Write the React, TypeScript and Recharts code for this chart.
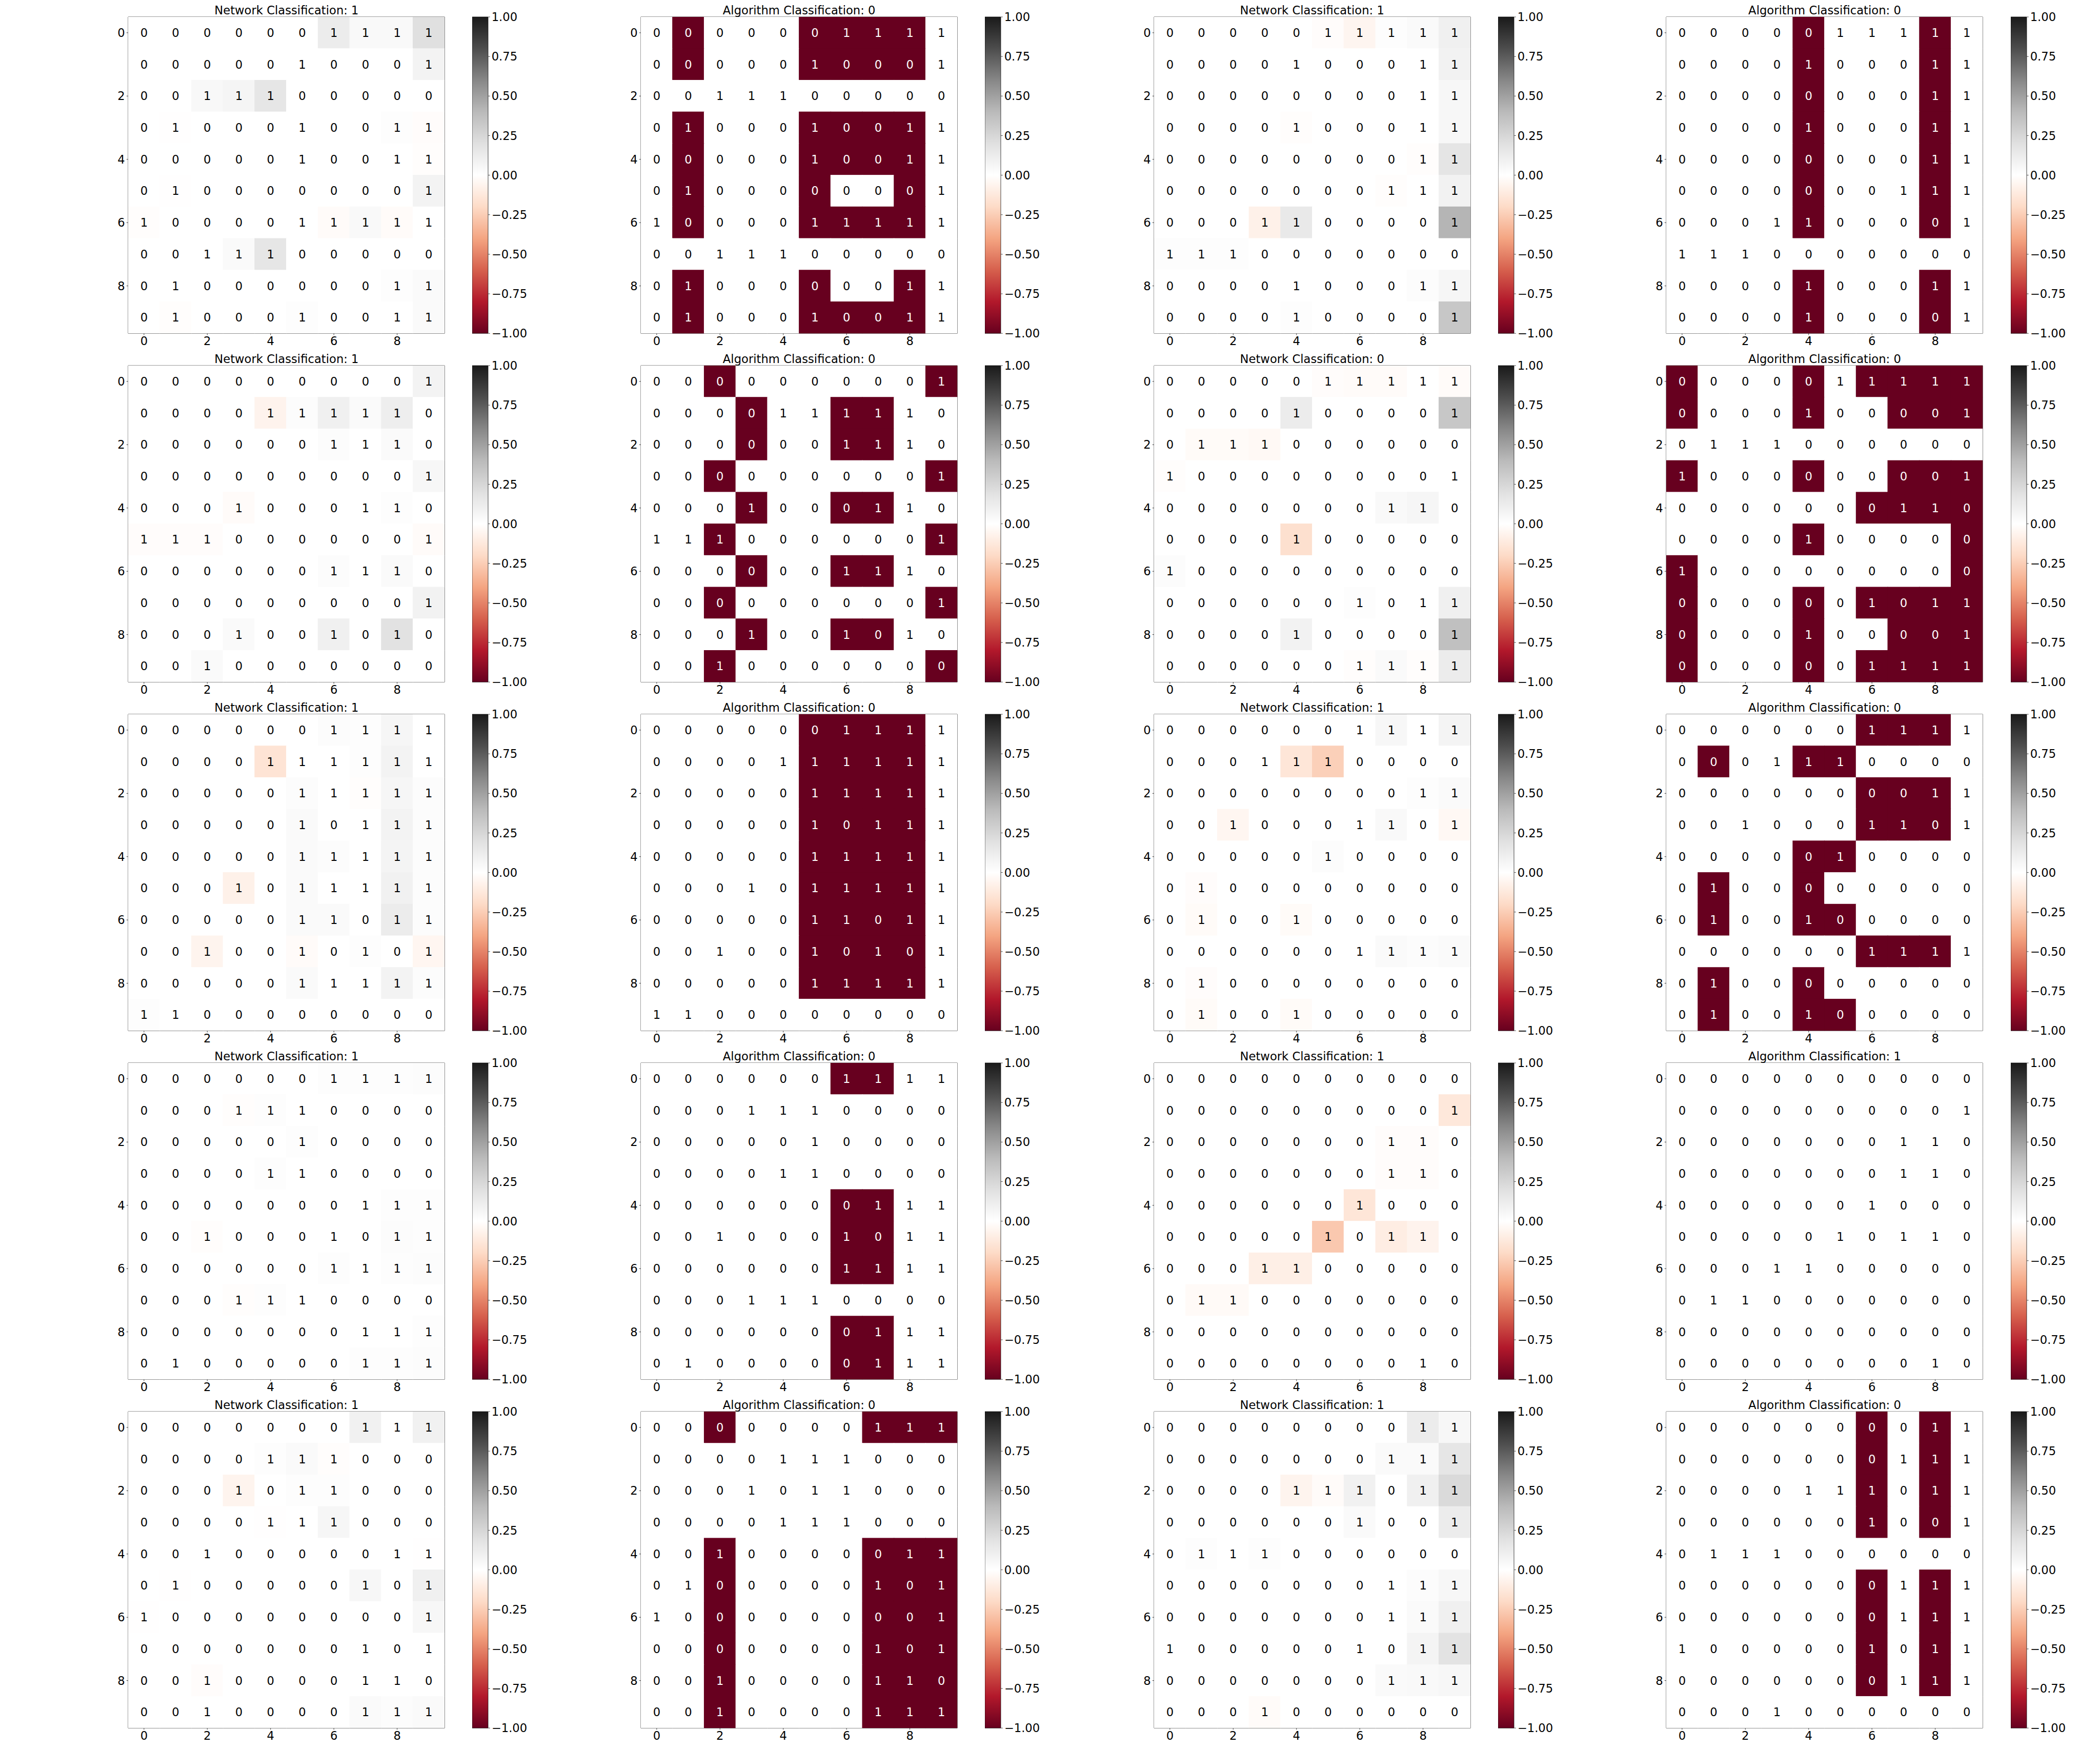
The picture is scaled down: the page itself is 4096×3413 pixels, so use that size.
import React from 'react';
import { ScatterChart, Scatter, XAxis, YAxis, ReferenceArea, BarChart, Bar } from 'recharts';

// ---------------- data ----------------
const inputA = [
  [0,0,0,0,0,0,1,1,1,1],[0,0,0,0,0,1,0,0,0,1],[0,0,1,1,1,0,0,0,0,0],[0,1,0,0,0,1,0,0,1,1],[0,0,0,0,0,1,0,0,1,1],
  [0,1,0,0,0,0,0,0,0,1],[1,0,0,0,0,1,1,1,1,1],[0,0,1,1,1,0,0,0,0,0],[0,1,0,0,0,0,0,0,1,1],[0,1,0,0,0,1,0,0,1,1],
];
const netA = [
  [0,0,0,0,0,0,0.12,0.04,0.04,0.2],[0,0,0,0,0,0,0,0,0,0.08],[0,0,0.045,0.065,0.16,0,0,0,0,0],[0,-0.005,0,0,0,0,0,0,0.01,-0.015],[0,0,0,0,0,0,0,0,0,-0.01],
  [0,-0.005,0,0,0,0,0,0,0,0.08],[-0.01,0,0,0,0,0,-0.02,0.04,-0.02,0],[0,0,0,0.03,0.16,0,0,0,0,0],[0,0,0,0,0,0,0,0,0.01,0.03],[0,-0.01,0,0,0,0.01,0,0,0,0.03],
];
const algA = [
  [0,-1,0,0,0,-1,-1,-1,-1,0],[0,-1,0,0,0,-1,-1,-1,-1,0],[0,0,0,0,0,0,0,0,0,0],[0,-1,0,0,0,-1,-1,-1,-1,0],[0,-1,0,0,0,-1,-1,-1,-1,0],
  [0,-1,0,0,0,-1,0,0,-1,0],[0,-1,0,0,0,-1,-1,-1,-1,0],[0,0,0,0,0,0,0,0,0,0],[0,-1,0,0,0,-1,0,0,-1,0],[0,-1,0,0,0,-1,-1,-1,-1,0],
];

const inputB = [
  [0,0,0,0,0,1,1,1,1,1],[0,0,0,0,1,0,0,0,1,1],[0,0,0,0,0,0,0,0,1,1],[0,0,0,0,1,0,0,0,1,1],[0,0,0,0,0,0,0,0,1,1],
  [0,0,0,0,0,0,0,1,1,1],[0,0,0,1,1,0,0,0,0,1],[1,1,1,0,0,0,0,0,0,0],[0,0,0,0,1,0,0,0,1,1],[0,0,0,0,1,0,0,0,0,1],
];
const netB = [
  [0,0,0,0,0,-0.015,-0.055,0.01,0.03,0.1],[0,0,0,0,0,0,0,0,0,0.085],[0,0,0,0,0,0,0,0,0,0.05],[0,0,0,0,-0.01,0,0,0,0,0.05],[0,0,0,0,0,0,0,0,-0.01,0.17],
  [0,0,0,0,0,0,0,-0.01,0,0.085],[0,0,0,-0.08,0.14,0,0,0,0,0.42],[0.015,0.015,0.01,0,0,0,0,0,0,0],[0,0,0,0,0,0,0,0,0.02,0.055],[0,0,0,0,0.01,0,0,0,0,0.33],
];
const algB = [
  [0,0,0,0,-1,0,0,0,-1,0],[0,0,0,0,-1,0,0,0,-1,0],[0,0,0,0,-1,0,0,0,-1,0],[0,0,0,0,-1,0,0,0,-1,0],[0,0,0,0,-1,0,0,0,-1,0],
  [0,0,0,0,-1,0,0,0,-1,0],[0,0,0,0,-1,0,0,0,-1,0],[0,0,0,0,0,0,0,0,0,0],[0,0,0,0,-1,0,0,0,-1,0],[0,0,0,0,-1,0,0,0,-1,0],
];

const inputC = [
  [0,0,0,0,0,0,0,0,0,1],[0,0,0,0,1,1,1,1,1,0],[0,0,0,0,0,0,1,1,1,0],[0,0,0,0,0,0,0,0,0,1],[0,0,0,1,0,0,0,1,1,0],
  [1,1,1,0,0,0,0,0,0,1],[0,0,0,0,0,0,1,1,1,0],[0,0,0,0,0,0,0,0,0,1],[0,0,0,1,0,0,1,0,1,0],[0,0,1,0,0,0,0,0,0,0],
];
const netC = [
  [0,0,0,0,0,0,0,0,0,0.08],[0,0,0,0,-0.065,0.02,0.1,0.03,0.11,0],[0,0,0,0,0,0,0.02,0,0.03,0],[0,0,0,0,0,0,0,0,0,0.05],[0,0,0,-0.02,0,0,0,0,0.01,0],
  [-0.015,-0.015,-0.015,0,0,0,0,0,0,-0.02],[0,0,0,0,0,0,0.02,0,0.03,0],[0,0,0,0,0,0,0,0,0,0.085],[0,0,0,0.03,0,0,0.1,0,0.19,0],[0,0,0.03,0,0,0,0,0,0,0],
];
const algC = [
  [0,0,-1,0,0,0,0,0,0,-1],[0,0,0,-1,0,0,-1,-1,0,0],[0,0,0,-1,0,0,-1,-1,0,0],[0,0,-1,0,0,0,0,0,0,-1],[0,0,0,-1,0,0,-1,-1,0,0],
  [0,0,-1,0,0,0,0,0,0,-1],[0,0,0,-1,0,0,-1,-1,0,0],[0,0,-1,0,0,0,0,0,0,-1],[0,0,0,-1,0,0,-1,-1,0,0],[0,0,-1,0,0,0,0,0,0,-1],
];

const inputD = [
  [0,0,0,0,0,1,1,1,1,1],[0,0,0,0,1,0,0,0,0,1],[0,1,1,1,0,0,0,0,0,0],[1,0,0,0,0,0,0,0,0,1],[0,0,0,0,0,0,0,1,1,0],
  [0,0,0,0,1,0,0,0,0,0],[1,0,0,0,0,0,0,0,0,0],[0,0,0,0,0,0,1,0,1,1],[0,0,0,0,1,0,0,0,0,1],[0,0,0,0,0,0,1,1,1,1],
];
const netD = [
  [0,0,0,0,0,-0.015,-0.02,-0.02,0,-0.02],[0,0,0,0,0.12,0,0,0,0,0.33],[0,-0.025,-0.025,-0.035,0,0,0,0,0,0],[-0.01,0,0,0,0,0,0,0,0,0],[0,0,0,0,0,0,0,0.04,0.06,0],
  [0,0,0,0,-0.17,0,0,0,0,0],[0.02,0,0,0,0,0,0,0,0,0],[0,0,0,0,0,0,0.01,0,0,0.1],[0,0,0,0,0.085,0,0,0,0,0.37],[0,0,0,0,0,0,-0.01,0.03,-0.01,0.12],
];
const algD = [
  [-1,0,0,0,-1,0,-1,-1,-1,-1],[-1,0,0,0,-1,0,0,-1,-1,-1],[0,0,0,0,0,0,0,0,0,0],[-1,0,0,0,-1,0,0,-1,-1,-1],[0,0,0,0,0,0,-1,-1,-1,-1],
  [0,0,0,0,-1,0,0,0,0,-1],[-1,0,0,0,0,0,0,0,0,-1],[-1,0,0,0,-1,0,-1,-1,-1,-1],[-1,0,0,0,-1,0,0,-1,-1,-1],[-1,0,0,0,-1,0,-1,-1,-1,-1],
];

const inputE = [
  [0,0,0,0,0,0,1,1,1,1],[0,0,0,0,1,1,1,1,1,1],[0,0,0,0,0,1,1,1,1,1],[0,0,0,0,0,1,0,1,1,1],[0,0,0,0,0,1,1,1,1,1],
  [0,0,0,1,0,1,1,1,1,1],[0,0,0,0,0,1,1,0,1,1],[0,0,1,0,0,1,0,1,0,1],[0,0,0,0,0,1,1,1,1,1],[1,1,0,0,0,0,0,0,0,0],
];
const netE = [
  [0,0,0,0,0,0,0.02,0.01,0.06,0],[0,0,0,0,-0.15,0,0,0.01,0.08,0],[0,0,0,0,0,0.02,0,-0.01,0.06,0.02],[0,0,0,0,0,0.03,0,0,0.08,0.02],[0,0,0,0,0,0.03,0.02,0,0.07,0.02],
  [0,0,0,-0.08,0,0.03,0,0,0.09,0.02],[0,0,0,0,0,0.03,0.03,0,0.12,0.02],[0,0,-0.06,0,0,-0.02,0,0.015,0,-0.05],[0,0,0,0,0,0.03,0,0,0.08,0.02],[0.01,0,0,0,0,0,0,0,0,0],
];
const algE = [
  [0,0,0,0,0,-1,-1,-1,-1,0],[0,0,0,0,0,-1,-1,-1,-1,0],[0,0,0,0,0,-1,-1,-1,-1,0],[0,0,0,0,0,-1,-1,-1,-1,0],[0,0,0,0,0,-1,-1,-1,-1,0],
  [0,0,0,0,0,-1,-1,-1,-1,0],[0,0,0,0,0,-1,-1,-1,-1,0],[0,0,0,0,0,-1,-1,-1,-1,0],[0,0,0,0,0,-1,-1,-1,-1,0],[0,0,0,0,0,0,0,0,0,0],
];

const inputF = [
  [0,0,0,0,0,0,1,1,1,1],[0,0,0,1,1,1,0,0,0,0],[0,0,0,0,0,0,0,0,1,1],[0,0,1,0,0,0,1,1,0,1],[0,0,0,0,0,1,0,0,0,0],
  [0,1,0,0,0,0,0,0,0,0],[0,1,0,0,1,0,0,0,0,0],[0,0,0,0,0,0,1,1,1,1],[0,1,0,0,0,0,0,0,0,0],[0,1,0,0,1,0,0,0,0,0],
];
const netF = [
  [0,0,0,0,0,0,0,0.05,0,0.07],[0,0,0,0,-0.14,-0.24,0,0,0,0],[0,0,0,0,0,0,0,0,0.015,0.03],[0,0,-0.05,0,0,0,0,0.04,0,-0.04],[0,0,0,0,0,0.02,0,0,0,0],
  [0,-0.015,0,0,0,0,0,0,0,0],[0,-0.025,0,0,-0.025,0,0,0,0,0],[0,0,0,0,0,0,0,0.03,0.02,0.03],[0,-0.015,0,0,0,0,0,0,0,0],[0,-0.025,0,0,-0.025,0,0,0,0,0],
];
const algF = [
  [0,0,0,0,0,0,-1,-1,-1,0],[0,-1,0,0,-1,-1,0,0,0,0],[0,0,0,0,0,0,-1,-1,-1,0],[0,0,0,0,0,0,-1,-1,-1,0],[0,0,0,0,-1,-1,0,0,0,0],
  [0,-1,0,0,-1,0,0,0,0,0],[0,-1,0,0,-1,-1,0,0,0,0],[0,0,0,0,0,0,-1,-1,-1,0],[0,-1,0,0,-1,0,0,0,0,0],[0,-1,0,0,-1,-1,0,0,0,0],
];

const inputG = [
  [0,0,0,0,0,0,1,1,1,1],[0,0,0,1,1,1,0,0,0,0],[0,0,0,0,0,1,0,0,0,0],[0,0,0,0,1,1,0,0,0,0],[0,0,0,0,0,0,0,1,1,1],
  [0,0,1,0,0,0,1,0,1,1],[0,0,0,0,0,0,1,1,1,1],[0,0,0,1,1,1,0,0,0,0],[0,0,0,0,0,0,0,1,1,1],[0,1,0,0,0,0,0,1,1,1],
];
const netG = [
  [0,0,0,0,0,0,0.01,0.01,0.01,0.02],[0,0,0,-0.01,0.01,0,0,0,0,0],[0,0,0,0,0,0.01,0,0,0,0],[0,0,0,0,0.01,0,0,0,0,0],[0,0,0,0,0,0,0,0,0.01,0.01],
  [0,0,-0.01,0,0,0,0,0,0.02,0.01],[0,0,0,0,0,0,0.01,0,0.01,0.02],[0,0,0,-0.01,0.01,0,0,0,0,0],[0,0,0,0,0,0,0,0,0,0.01],[0,0,0,0,0,0,0,0.01,0.01,0.02],
];
const algG = [
  [0,0,0,0,0,0,-1,-1,0,0],[0,0,0,0,0,0,0,0,0,0],[0,0,0,0,0,0,0,0,0,0],[0,0,0,0,0,0,0,0,0,0],[0,0,0,0,0,0,-1,-1,0,0],
  [0,0,0,0,0,0,-1,-1,0,0],[0,0,0,0,0,0,-1,-1,0,0],[0,0,0,0,0,0,0,0,0,0],[0,0,0,0,0,0,-1,-1,0,0],[0,0,0,0,0,0,-1,-1,0,0],
];

const inputH = [
  [0,0,0,0,0,0,0,0,0,0],[0,0,0,0,0,0,0,0,0,1],[0,0,0,0,0,0,0,1,1,0],[0,0,0,0,0,0,0,1,1,0],[0,0,0,0,0,0,1,0,0,0],
  [0,0,0,0,0,1,0,1,1,0],[0,0,0,1,1,0,0,0,0,0],[0,1,1,0,0,0,0,0,0,0],[0,0,0,0,0,0,0,0,0,0],[0,0,0,0,0,0,0,0,1,0],
];
const netH = [
  [0,0,0,0,0,0,0,0,0,0],[0,0,0,0,0,0,0,0,0,-0.13],[0,0,0,0,0,0,0,-0.015,-0.015,0],[0,0,0,0,0,0,0,-0.015,-0.015,0],[0,0,0,0,0,0,-0.14,0,0,0],
  [0,0,0,0,0,-0.27,0,-0.1,-0.065,0],[0,0,0,-0.09,-0.09,0,0,0,0,0],[0,-0.03,-0.03,0,0,0,0,0,0,0],[0,0,0,0,0,0,0,0,0,0],[0,0,0,0,0,0,0,0,0,0],
];
const algH = [
  [0,0,0,0,0,0,0,0,0,0],[0,0,0,0,0,0,0,0,0,0],[0,0,0,0,0,0,0,0,0,0],[0,0,0,0,0,0,0,0,0,0],[0,0,0,0,0,0,0,0,0,0],
  [0,0,0,0,0,0,0,0,0,0],[0,0,0,0,0,0,0,0,0,0],[0,0,0,0,0,0,0,0,0,0],[0,0,0,0,0,0,0,0,0,0],[0,0,0,0,0,0,0,0,0,0],
];

const inputI = [
  [0,0,0,0,0,0,0,1,1,1],[0,0,0,0,1,1,1,0,0,0],[0,0,0,1,0,1,1,0,0,0],[0,0,0,0,1,1,1,0,0,0],[0,0,1,0,0,0,0,0,1,1],
  [0,1,0,0,0,0,0,1,0,1],[1,0,0,0,0,0,0,0,0,1],[0,0,0,0,0,0,0,1,0,1],[0,0,1,0,0,0,0,1,1,0],[0,0,1,0,0,0,0,1,1,1],
];
const netI = [
  [0,0,0,0,0,0,0,0.09,0,0.09],[0,0,0,0,0.01,0.03,-0.01,0,0,0],[0,0,0,-0.06,0,0.015,0.01,0,0,0],[0,0,0,0,-0.005,0,0.06,0,0,0],[0,0,0,0,0,0,0,0,0,-0.005],
  [0,-0.005,0,0,0,0,0,0.05,0,0.1],[-0.005,0,0,0,0,0,0,0,0,0.05],[0,0,0,0,0,0,0,0,0,0],[0,0,-0.015,0,0,0,0,0,0,0],[0,0,0,0,0,0,0,0.03,0.02,0.03],
];
const algI = [
  [0,0,-1,0,0,0,0,-1,-1,-1],[0,0,0,0,0,0,0,0,0,0],[0,0,0,0,0,0,0,0,0,0],[0,0,0,0,0,0,0,0,0,0],[0,0,-1,0,0,0,0,-1,-1,-1],
  [0,0,-1,0,0,0,0,-1,-1,-1],[0,0,-1,0,0,0,0,-1,-1,-1],[0,0,-1,0,0,0,0,-1,-1,-1],[0,0,-1,0,0,0,0,-1,-1,-1],[0,0,-1,0,0,0,0,-1,-1,-1],
];

const inputJ = [
  [0,0,0,0,0,0,0,0,1,1],[0,0,0,0,0,0,0,1,1,1],[0,0,0,0,1,1,1,0,1,1],[0,0,0,0,0,0,1,0,0,1],[0,1,1,1,0,0,0,0,0,0],
  [0,0,0,0,0,0,0,1,1,1],[0,0,0,0,0,0,0,1,1,1],[1,0,0,0,0,0,1,0,1,1],[0,0,0,0,0,0,0,1,1,1],[0,0,0,1,0,0,0,0,0,0],
];
const netJ = [
  [0,0,0,0,0,0,0,0,0.12,0.05],[0,0,0,0,0,0,0,0.03,0.03,0.16],[0,0,0,0,-0.06,-0.02,0.09,0,0.1,0.23],[0,0,0,0,0,0,0.03,0,0,0.12],[0,0.015,0,0.015,0,0,0,0,0,0],
  [0,0,0,0,0,0,0,0,0.02,0.05],[0,0,0,0,0,0,0,0,0.03,0.1],[0,0,0,0,0,0,0,0,0.07,0.18],[0,0,0,0,0,0,0,0.03,0.04,0.05],[0,0,0,-0.02,0,0,0,0,0,0],
];
const algJ = [
  [0,0,0,0,0,0,-1,0,-1,0],[0,0,0,0,0,0,-1,0,-1,0],[0,0,0,0,0,0,-1,0,-1,0],[0,0,0,0,0,0,-1,0,-1,0],[0,0,0,0,0,0,0,0,0,0],
  [0,0,0,0,0,0,-1,0,-1,0],[0,0,0,0,0,0,-1,0,-1,0],[0,0,0,0,0,0,-1,0,-1,0],[0,0,0,0,0,0,-1,0,-1,0],[0,0,0,0,0,0,0,0,0,0],
];

const inputs = [inputA, inputB, inputC, inputD, inputE, inputF, inputG, inputH, inputI, inputJ];
const netAttr = [netA, netB, netC, netD, netE, netF, netG, netH, netI, netJ];
const algAttr = [algA, algB, algC, algD, algE, algF, algG, algH, algI, algJ];
const networkClass = [1, 1, 1, 0, 1, 1, 1, 1, 1, 1];
const algorithmClass = [0, 0, 0, 0, 0, 0, 0, 1, 0, 0];

const axisTicks = [0, 2, 4, 6, 8];
const gridDomain = [-0.5, 9.5];
const cbTicks = [-1, -0.75, -0.5, -0.25, 0, 0.25, 0.5, 0.75, 1];
const cbRange = [-1, 1];
const rdgyStops = ['#67001f', '#b2182b', '#d6604d', '#f4a582', '#fddbc7', '#ffffff', '#e0e0e0', '#bababa', '#878787', '#4d4d4d', '#1a1a1a'];

// ---------------- layout ----------------
const FONT = 'DejaVu Sans';
const FS = 22.7;
const PLOT = 617.2;
const CELL = PLOT / 10;
const AXIS_W = 40;
const AXIS_H = 40;
const TOP_M = 2;
const colLeft = [250.3, 1250.1, 2250.6, 3250.4];
const rowTop = [33.4, 713.4, 1393.3, 2073.3, 2753.2];
const cbOffset = 671.1;
const cbWidth = 31.4;
const CB_AXIS = 100;
const CB_M = 24;
const LW = 0.75;
const TICK = 3.3;

function hexRgb(h: string) {
  return [parseInt(h.slice(1, 3), 16), parseInt(h.slice(3, 5), 16), parseInt(h.slice(5, 7), 16)];
}
function rdgy(v: number) {
  const t = ((Math.max(-1, Math.min(1, v)) + 1) / 2) * 10;
  const i = Math.min(9, Math.floor(t));
  const f = t - i;
  const a = hexRgb(rdgyStops[i]);
  const b = hexRgb(rdgyStops[i + 1]);
  const c = a.map((x, k) => Math.round(x + (b[k] - x) * f));
  return { css: `rgb(${c[0]},${c[1]},${c[2]})`, rgb: c };
}
function textColor(rgb: number[]) {
  const lin = rgb.map((x) => {
    const s = x / 255;
    return s <= 0.03928 ? s / 12.92 : Math.pow((s + 0.055) / 1.055, 2.4);
  });
  const L = 0.2126 * lin[0] + 0.7152 * lin[1] + 0.0722 * lin[2];
  return L > 0.408 ? '#000000' : '#ffffff';
}

function buildCells(inp: number[][], attr: number[][]) {
  const out: { x: number; y: number; t: number; v: number }[] = [];
  for (let r = 0; r < 10; r++) for (let c = 0; c < 10; c++) out.push({ x: c, y: r, t: inp[r][c], v: attr[r][c] });
  return out;
}

const HeatRects = (props: any) => {
  const { cx, cy, payload } = props;
  if (cx == null || cy == null) return null;
  const col = rdgy(payload.v);
  return <rect x={cx - CELL / 2 - 0.5} y={cy - CELL / 2 - 0.5} width={CELL + 1} height={CELL + 1} fill={col.css} />;
};

const HeatText = (props: any) => {
  const { cx, cy, payload } = props;
  if (cx == null || cy == null) return null;
  const col = rdgy(payload.v);
  return (
    <text x={cx} y={cy} dy="0.35em" textAnchor="middle" fontSize={FS} fontFamily={FONT} fill={textColor(col.rgb)}>
      {payload.t}
    </text>
  );
};

const tickStyle = { fontSize: FS, fill: '#000', fontFamily: FONT };

const fmtCb = (v: number) => (v < 0 ? '\u2212' : '') + Math.abs(v).toFixed(2);

function Panel({ r, c }: { r: number; c: number }) {
  const g = 2 * r + (c >= 2 ? 1 : 0);
  const isNet = c % 2 === 0;
  const attr = isNet ? netAttr[g] : algAttr[g];
  const title = isNet ? `Network Classification: ${networkClass[g]}` : `Algorithm Classification: ${algorithmClass[g]}`;
  const cells = buildCells(inputs[g], attr);
  const L = colLeft[c];
  const T = rowTop[r];
  const gid = `cbgrad-${r}-${c}`;
  const cbData = [{ name: 'cb', range: cbRange }];
  return (
    <>
      <div
        style={{
          position: 'absolute', left: L, top: T - 24.6, width: PLOT, textAlign: 'center',
          fontFamily: FONT, fontSize: FS, lineHeight: `${FS}px`, color: '#000', whiteSpace: 'nowrap',
        }}
      >
        {title}
      </div>
      <div style={{ position: 'absolute', left: L - AXIS_W, top: T - TOP_M }}>
        <ScatterChart width={AXIS_W + PLOT + 2} height={TOP_M + PLOT + AXIS_H} margin={{ top: TOP_M, right: 2, left: 0, bottom: 0 }}>
          <XAxis
            type="number" dataKey="x" domain={gridDomain} ticks={axisTicks} interval={0} height={AXIS_H}
            axisLine={false} tickSize={TICK} tickMargin={3.5} tickLine={{ stroke: '#000', strokeWidth: LW }} tick={tickStyle}
            allowDataOverflow
          />
          <YAxis
            type="number" dataKey="y" domain={gridDomain} ticks={axisTicks} interval={0} width={AXIS_W} reversed
            axisLine={false} tickSize={TICK} tickMargin={3} tickLine={{ stroke: '#000', strokeWidth: LW }} tick={tickStyle}
            allowDataOverflow
          />
          <Scatter data={cells} shape={HeatRects} isAnimationActive={false} />
          <Scatter data={cells} shape={HeatText} isAnimationActive={false} />
          <ReferenceArea x1={-0.5} x2={9.5} y1={-0.5} y2={9.5} fill="none" fillOpacity={0} stroke="#000" strokeWidth={LW} ifOverflow="visible" />
        </ScatterChart>
      </div>
      <div style={{ position: 'absolute', left: L + cbOffset, top: T - CB_M }}>
        <BarChart width={cbWidth + CB_AXIS} height={PLOT + 2 * CB_M} data={cbData} margin={{ top: CB_M, bottom: CB_M, left: 0, right: 0 }} barCategoryGap={0}>
          <defs>
            <linearGradient id={gid} x1="0" y1="1" x2="0" y2="0">
              {rdgyStops.map((s, i) => (
                <stop key={i} offset={i / 10} stopColor={s} />
              ))}
            </linearGradient>
          </defs>
          <XAxis dataKey="name" hide />
          <YAxis
            orientation="right" type="number" domain={cbRange} ticks={cbTicks} interval={0} width={CB_AXIS}
            axisLine={false} tickSize={TICK} tickMargin={3} tickLine={{ stroke: '#000', strokeWidth: LW }} tick={tickStyle}
            tickFormatter={fmtCb}
          />
          <Bar dataKey="range" fill={`url(#${gid})`} stroke="#000" strokeWidth={LW} isAnimationActive={false} />
        </BarChart>
      </div>
    </>
  );
}

export default function App() {
  const panels: { r: number; c: number }[] = [];
  for (let r = 0; r < 5; r++) for (let c = 0; c < 4; c++) panels.push({ r, c });
  return (
    <div style={{ position: 'absolute', left: 0, top: 0, width: 4096, height: 3413, background: '#fff', overflow: 'hidden' }}>
      {panels.map((p) => (
        <Panel key={`${p.r}-${p.c}`} r={p.r} c={p.c} />
      ))}
    </div>
  );
}
